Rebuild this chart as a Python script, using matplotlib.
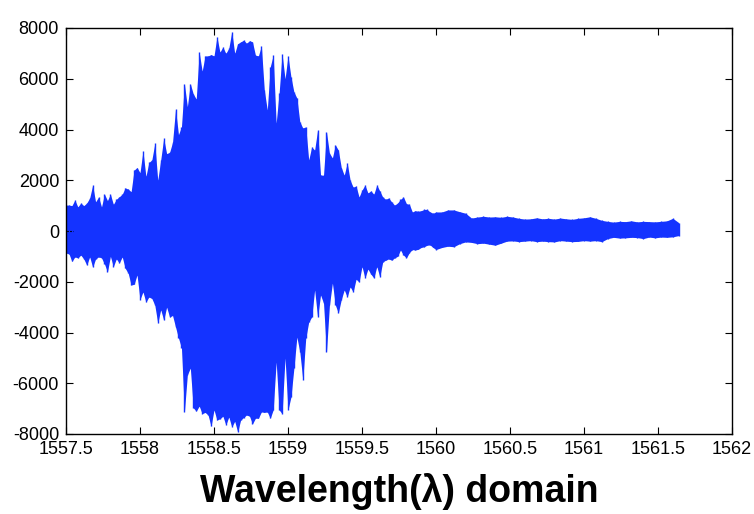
import numpy as np
import matplotlib.pyplot as plt

# detected signal, sampled every 0.02 nm up to 1560 nm and every 0.04 nm after
wl_main = np.linspace(1557.50, 1560.00, 126)
wl_tail = np.linspace(1560.04, 1561.64, 41)

upper_main = [
    1020, 1020, 1000, 1220, 950, 1100, 1000, 1100, 1300, 1800,
    1150, 1340, 950, 1450, 1200, 1450, 1050, 1250, 1350, 1450,
    1700, 1650, 1550, 2400, 2500, 2300, 3150, 2150, 2700, 2800,
    3450, 2000, 2800, 3650, 3050, 3100, 3500, 4800, 3800, 4100,
    5800, 4900, 5800, 5400, 5200, 7050,
    6300, 6900, 6900, 6950, 6900, 7650, 7050, 7250, 7000, 7200,
    7850, 7000, 7380, 7450, 7520, 7400, 7500, 7450, 6930, 6900,
    7290, 5550, 4770, 6470, 6930, 4250, 5440, 6980, 6000, 6900,
    6070, 5480, 5240, 4300, 4060, 4100, 2800, 3310, 3190, 3980,
    2200, 2200, 3900, 3070, 2880, 3390, 3190,
    2500, 2200, 2680, 2000, 1730, 1770, 1340, 1610, 1810, 1500,
    1580, 1450, 1810, 1580, 1340, 1250, 1300, 1150, 1020, 1100,
    1250, 1340, 1080, 1050, 750, 800, 780, 800, 850, 850,
    750, 700, 750]
lower_main = [
    -870, -900, -1200, -1020, -1060, -950, -1100, -1340, -1020, -1420,
    -1100, -1020, -1060, -1300, -1610, -1000, -1400, -1100, -1260, -1020,
    -1470, -1660, -2130, -2100, -1730, -2700, -2400, -2800, -2600, -2660,
    -2920, -3630, -3100, -3510, -3000, -3390, -3330, -3780, -4220, -4600,
    -7130, -5670, -5400, -6970, -7100, -6900,
    -7200, -7150, -7250, -7700, -7050, -7450, -7400, -7300, -7640, -7330,
    -7720, -7500, -7920, -7450, -7350, -7250, -7300, -7600, -7380, -7380,
    -7130, -7150, -7130, -7380, -7050, -5160, -7050, -7200, -5000, -7050,
    -6540, -5400, -4180, -4770, -5870, -4220, -3590, -3390, -2320, -3390,
    -2520, -2840, -4770, -2920, -2050, -2920, -3230,
    -2700, -2320, -2600, -2200, -2400, -1900, -2010, -1400, -1850, -1500,
    -1700, -1850, -1400, -1810, -1220, -1150, -1100, -1150, -1060, -1000,
    -750, -950, -1060, -850, -730, -750, -720, -650, -620, -560,
    -550, -650, -730]
upper_tail = [
    750, 830, 830, 760, 700, 510, 550, 580, 550, 560,
    540, 580, 550, 500, 470, 480, 520, 480, 500, 470,
    510, 480, 460, 500, 520, 560, 500, 420, 380, 350,
    380, 370, 400, 360, 380, 370, 360, 380, 400, 500, 330]
lower_tail = [
    -650, -600, -620, -500, -430, -450, -500, -480, -520, -560,
    -480, -400, -390, -420, -400, -380, -420, -400, -420, -430,
    -380, -400, -420, -410, -380, -400, -380, -420, -300, -250,
    -280, -270, -250, -260, -300, -240, -270, -240, -250, -230, -180]

wavelength = np.concatenate([wl_main, wl_tail])
upper = np.array(upper_main + upper_tail)
lower = np.array(lower_main + lower_tail)

blue = '#1433ff'
plt.rcParams['font.family'] = ['Liberation Sans', 'DejaVu Sans']
plt.rcParams['axes.unicode_minus'] = False

fig = plt.figure(figsize=(7.54, 5.14), dpi=100)
ax = fig.add_axes([66 / 754, 1 - 434 / 514, 666 / 754, 406 / 514])

# solid body between the envelopes, plus one thin stroke per sample
ax.fill_between(wavelength, lower, upper, color=blue, linewidth=0)
ax.vlines(wavelength, lower, upper, color=blue, linewidth=1.0)

ax.set_xlim(1557.5, 1562)
ax.set_ylim(-8000, 8000)
ax.set_xticks(np.arange(1557.5, 1562.01, 0.5))
ax.set_xticklabels(['1557.5', '1558', '1558.5', '1559', '1559.5', '1560',
                    '1560.5', '1561', '1561.5', '1562'])
ax.set_yticks(np.arange(-8000, 8001, 2000))
ax.tick_params(direction='in', top=True, right=True, length=5, width=0.8,
               labelsize=13)
ax.tick_params(axis='x', pad=5)
ax.tick_params(axis='y', pad=5)
for s in ax.spines.values():
    s.set_linewidth(1.0)

fig.text(399 / 754, 1 - 492 / 514, 'Wavelength(λ) domain', ha='center',
         va='center', fontsize=27, fontweight='bold')

fig.savefig('out.png', dpi=100)
